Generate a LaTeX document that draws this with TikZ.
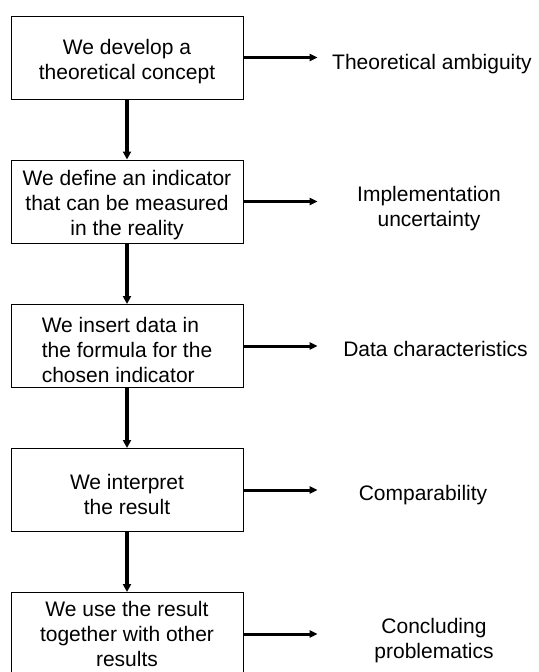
\documentclass[tikz,border=0pt]{standalone}
\usepackage{fontspec}
\setmainfont{Liberation Sans}
\usetikzlibrary{arrows.meta}
\newcommand\boxstrut{\rule{0pt}{17.5pt}}

\begin{document}
\begin{tikzpicture}[
      x=0.75pt, y=-0.75pt,
      stepbox/.style={
        draw, line width=0.75pt, align=center,
        minimum width=174pt, minimum height=62.25pt,
        inner sep=1pt, font=\fontsize{15.75}{18.75}\selectfont
      },
      issue/.style={
        align=center, inner sep=0pt,
        font=\fontsize{15.75}{18.75}\selectfont
      },
      down/.style={line width=3pt, -{Triangle[length=6pt,width=6pt]}},
      side/.style={line width=2.25pt, -{Triangle[length=6pt,width=5.5pt]}}
    ]
      \useasboundingbox (0,0) rectangle (539,672);

      \node[stepbox] (b1) at (127,57.5) {\boxstrut We develop a\\theoretical concept};
      \node[stepbox] (b2) at (127,201.5) {\boxstrut We define an indicator\\that can be measured\\in the reality};
      \node[stepbox, align=left] (b3) at (127,346) {\boxstrut We insert data in\\the formula for the\\chosen indicator};
      \node[stepbox] (b4) at (127,490) {\boxstrut We interpret\\the result};
      \node[stepbox] (b5) at (127,634) {We use the result\\together with other\\results};

      \node[issue] (t1) at (432,64) {Theoretical ambiguity};
      \node[issue] (t2) at (429,209) {Implementation\\uncertainty};
      \node[issue] (t3) at (435.5,348.5) {Data characteristics};
      \node[issue] (t4) at (423,495.4) {Comparability};
      \node[issue] (t5) at (434,641) {Concluding\\problematics};

      \foreach \i/\j in {1/2,2/3,3/4,4/5} {
        \draw[down] (b\i) -- (b\j);
      }
      \foreach \i in {1,...,5} {
        \path (b\i.east) ++(74,0) coordinate (e\i);
        \draw[side] (b\i.east) -- (e\i);
      }
    \end{tikzpicture}
\end{document}
